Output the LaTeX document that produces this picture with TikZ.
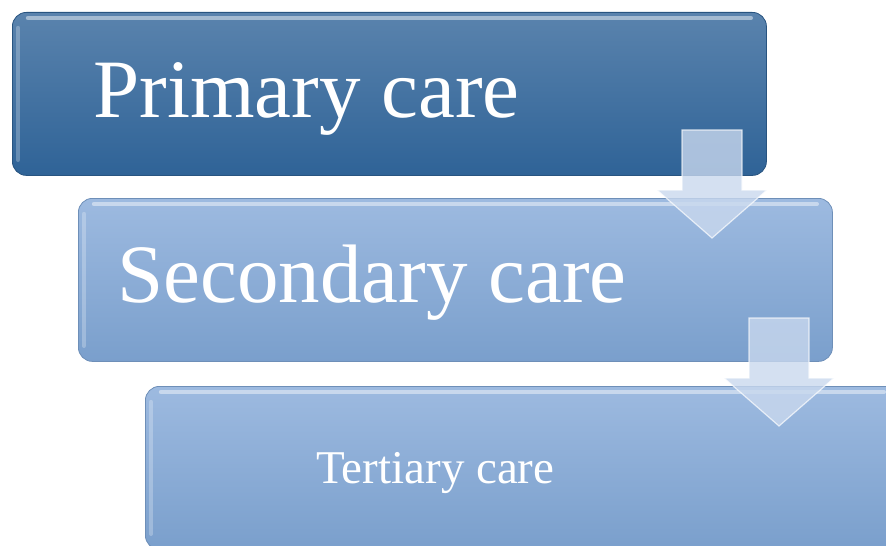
\documentclass[tikz,border=0pt]{standalone}
\usepackage{fontspec}
\setmainfont{Liberation Serif}
\usetikzlibrary{positioning}

\definecolor{darktop}{HTML}{5A83AD}
\definecolor{darkbot}{HTML}{2F6397}
\definecolor{lighttop}{HTML}{9DBAE0}
\definecolor{lightbot}{HTML}{7A9FCC}
\definecolor{arrowfill}{HTML}{C9D8EE}

\tikzset{
  stagebox/.style={rounded corners=7pt, minimum width=377pt, minimum height=81.5pt,
    inner sep=0pt, anchor=north west},
  darkstage/.style={stagebox, top color=darktop, bottom color=darkbot, draw=darkbot!85!black, line width=0.4pt},
  lightstage/.style={stagebox, top color=lighttop, bottom color=lightbot, draw=lightbot!90!black, line width=0.4pt},
  gloss/.style={white, line cap=round, opacity=0.45, line width=2.2pt},
  stagetext/.style={text=white, anchor=base west, inner sep=0pt},
  flowarrow/.style={fill=arrowfill, fill opacity=0.8, draw=white, draw opacity=0.7, line width=0.6pt},
}

\begin{document}
\begin{tikzpicture}[x=0.5pt, y=-0.5pt]
   % Sizes
   \pgfmathsetmacro{\shaft}{30}
   \pgfmathsetmacro{\wing}{55}
   \pgfmathsetmacro{\neck}{60}
   \pgfmathsetmacro{\tip}{108}
   \useasboundingbox (0,0) rectangle (886,545);

   % boxes
   \node[darkstage] (primary) at (12,12) {};
   \node[lightstage] (secondary) at (78,198) {};
   \node[lightstage] (tertiary) at (145,386) {};

   % gloss
   \foreach \b in {primary, secondary, tertiary} {
     \draw[gloss] ([xshift=8pt, yshift=-3pt]\b.north west) -- ([xshift=-8pt, yshift=-3pt]\b.north east);
     \draw[gloss, opacity=0.25] ([xshift=3pt, yshift=-8pt]\b.north west) -- ([xshift=3pt, yshift=8pt]\b.south west);
   }

   % labels
   \node[stagetext, font=\fontsize{41.5}{48}\selectfont] (ptext) at (93,118) {Primary care};
   \node[stagetext, font=\fontsize{41.5}{48}\selectfont] (stext) at (117,302) {Secondary care};
   \node[stagetext, font=\fontsize{23.5}{28}\selectfont] (ttext) at (316,483) {Tertiary care};

   % arrows
   \foreach \ax/\ay in {712/130, 779/318} {
     \draw[flowarrow] (\ax-\shaft,\ay) -- (\ax+\shaft,\ay) -- (\ax+\shaft,\ay+\neck)
       -- (\ax+\wing,\ay+\neck) -- (\ax,\ay+\tip) -- (\ax-\wing,\ay+\neck)
       -- (\ax-\shaft,\ay+\neck) -- cycle;
   }
\end{tikzpicture}
\end{document}
